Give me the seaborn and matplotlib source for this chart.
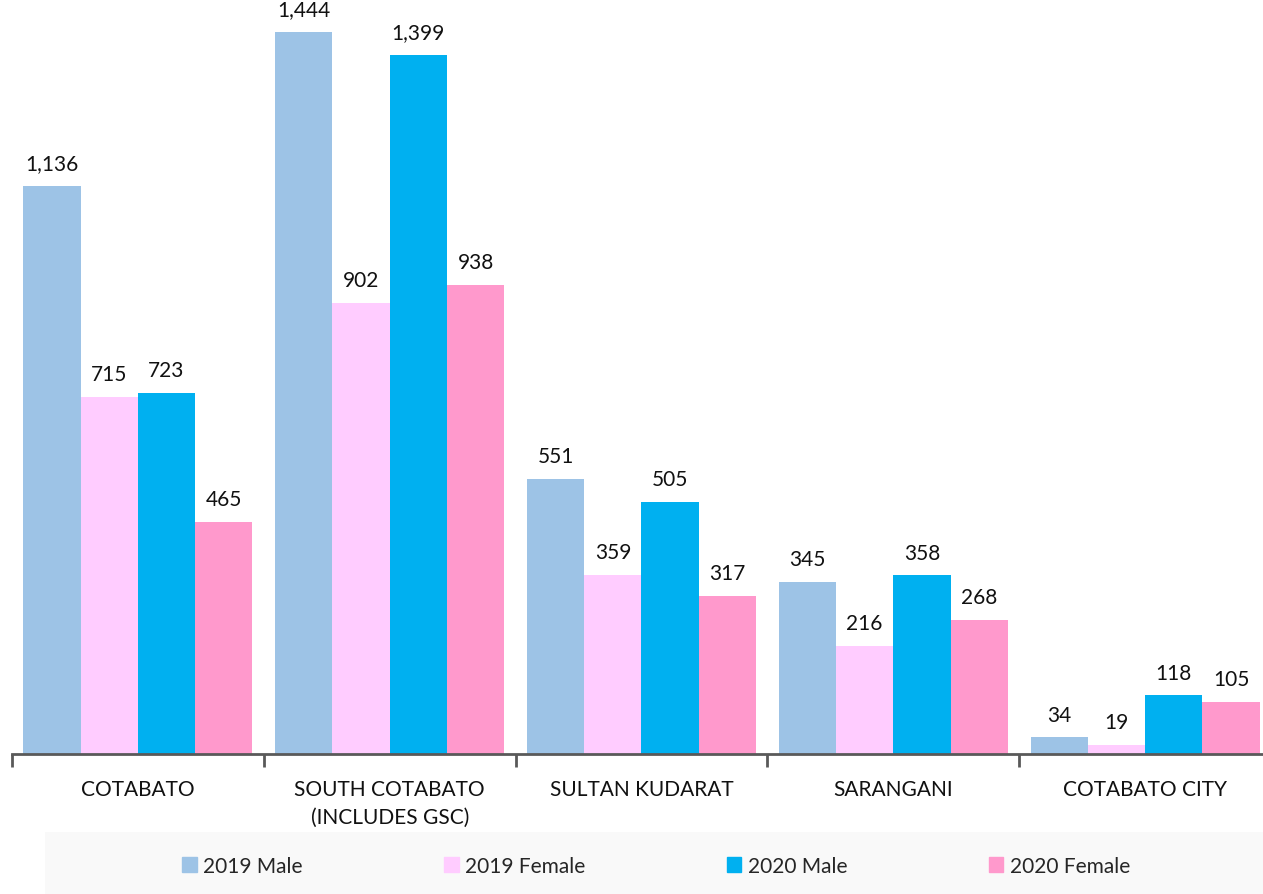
import pandas as pd
import matplotlib.pyplot as plt
import seaborn as sns
from matplotlib.patches import Rectangle

# data
provinces = ['COTABATO', 'SOUTH COTABATO\n(INCLUDES GSC)', 'SULTAN KUDARAT', 'SARANGANI', 'COTABATO CITY']
series = ['2019 Male', '2019 Female', '2020 Male', '2020 Female']
male_2019 = [1136, 1444, 551, 345, 34]
female_2019 = [715, 902, 359, 216, 19]
male_2020 = [723, 1399, 505, 358, 118]
female_2020 = [465, 938, 317, 268, 105]
colors = ['#9DC3E6', '#FFCCFF', '#00B0F0', '#FF99CC']

rows = []
for s, vals in zip(series, [male_2019, female_2019, male_2020, female_2020]):
    for p, v in zip(provinces, vals):
        rows.append({'province': p, 'series': s, 'value': v})
df = pd.DataFrame(rows)

sns.set_theme(style='white')
plt.rcParams['font.family'] = ['Lato', 'DejaVu Sans']

W, H = 1263, 895
fig = plt.figure(figsize=(W / 100, H / 100), dpi=100)
# axes runs a bit past the right edge, like the original
ax = fig.add_axes([12 / W, 1 - 755 / H, 1259 / W, 750 / H])

sns.barplot(data=df, x='province', y='value', hue='series', palette=colors,
            width=0.91, gap=0, saturation=1, linewidth=0, ax=ax, legend=False, errorbar=None)

for c in ax.containers:
    ax.bar_label(c, labels=[f'{v:,.0f}' for v in c.datavalues], padding=9, fontsize=15, color='#111111')

ax.set_ylim(0, 1500)
ax.set_xlim(-0.5, 4.5)
ax.set_xlabel('')
ax.set_ylabel('')
ax.set_yticks([])
for side in ['top', 'right', 'left']:
    ax.spines[side].set_visible(False)
ax.spines['bottom'].set_color('#595959')
ax.spines['bottom'].set_linewidth(2)
ax.tick_params(axis='x', which='major', length=0, labelsize=15, pad=18, labelcolor='#111111')
for lbl in ax.get_xticklabels():
    lbl.set_linespacing(1.5)
ax.set_xticks([-0.5, 0.5, 1.5, 2.5, 3.5, 4.5], minor=True)
ax.tick_params(axis='x', which='minor', direction='out', length=9, width=2, color='#595959', bottom=True)

# legend band at the bottom
fig.patches.append(Rectangle((45 / W, 0), 1 - 45 / W, 62 / H, transform=fig.transFigure,
                             facecolor='#F9F9F9', edgecolor='none', zorder=0))
handles = [plt.Rectangle((0, 0), 1, 1, color=c) for c in colors]
fig.legend(handles, series, loc='center', bbox_to_anchor=(656 / W, 28 / H), ncol=4,
           frameon=False, fontsize=15, handlelength=0.7, handleheight=0.7,
           handletextpad=0.3, columnspacing=6.8)

fig.savefig('out.png', dpi=100)
